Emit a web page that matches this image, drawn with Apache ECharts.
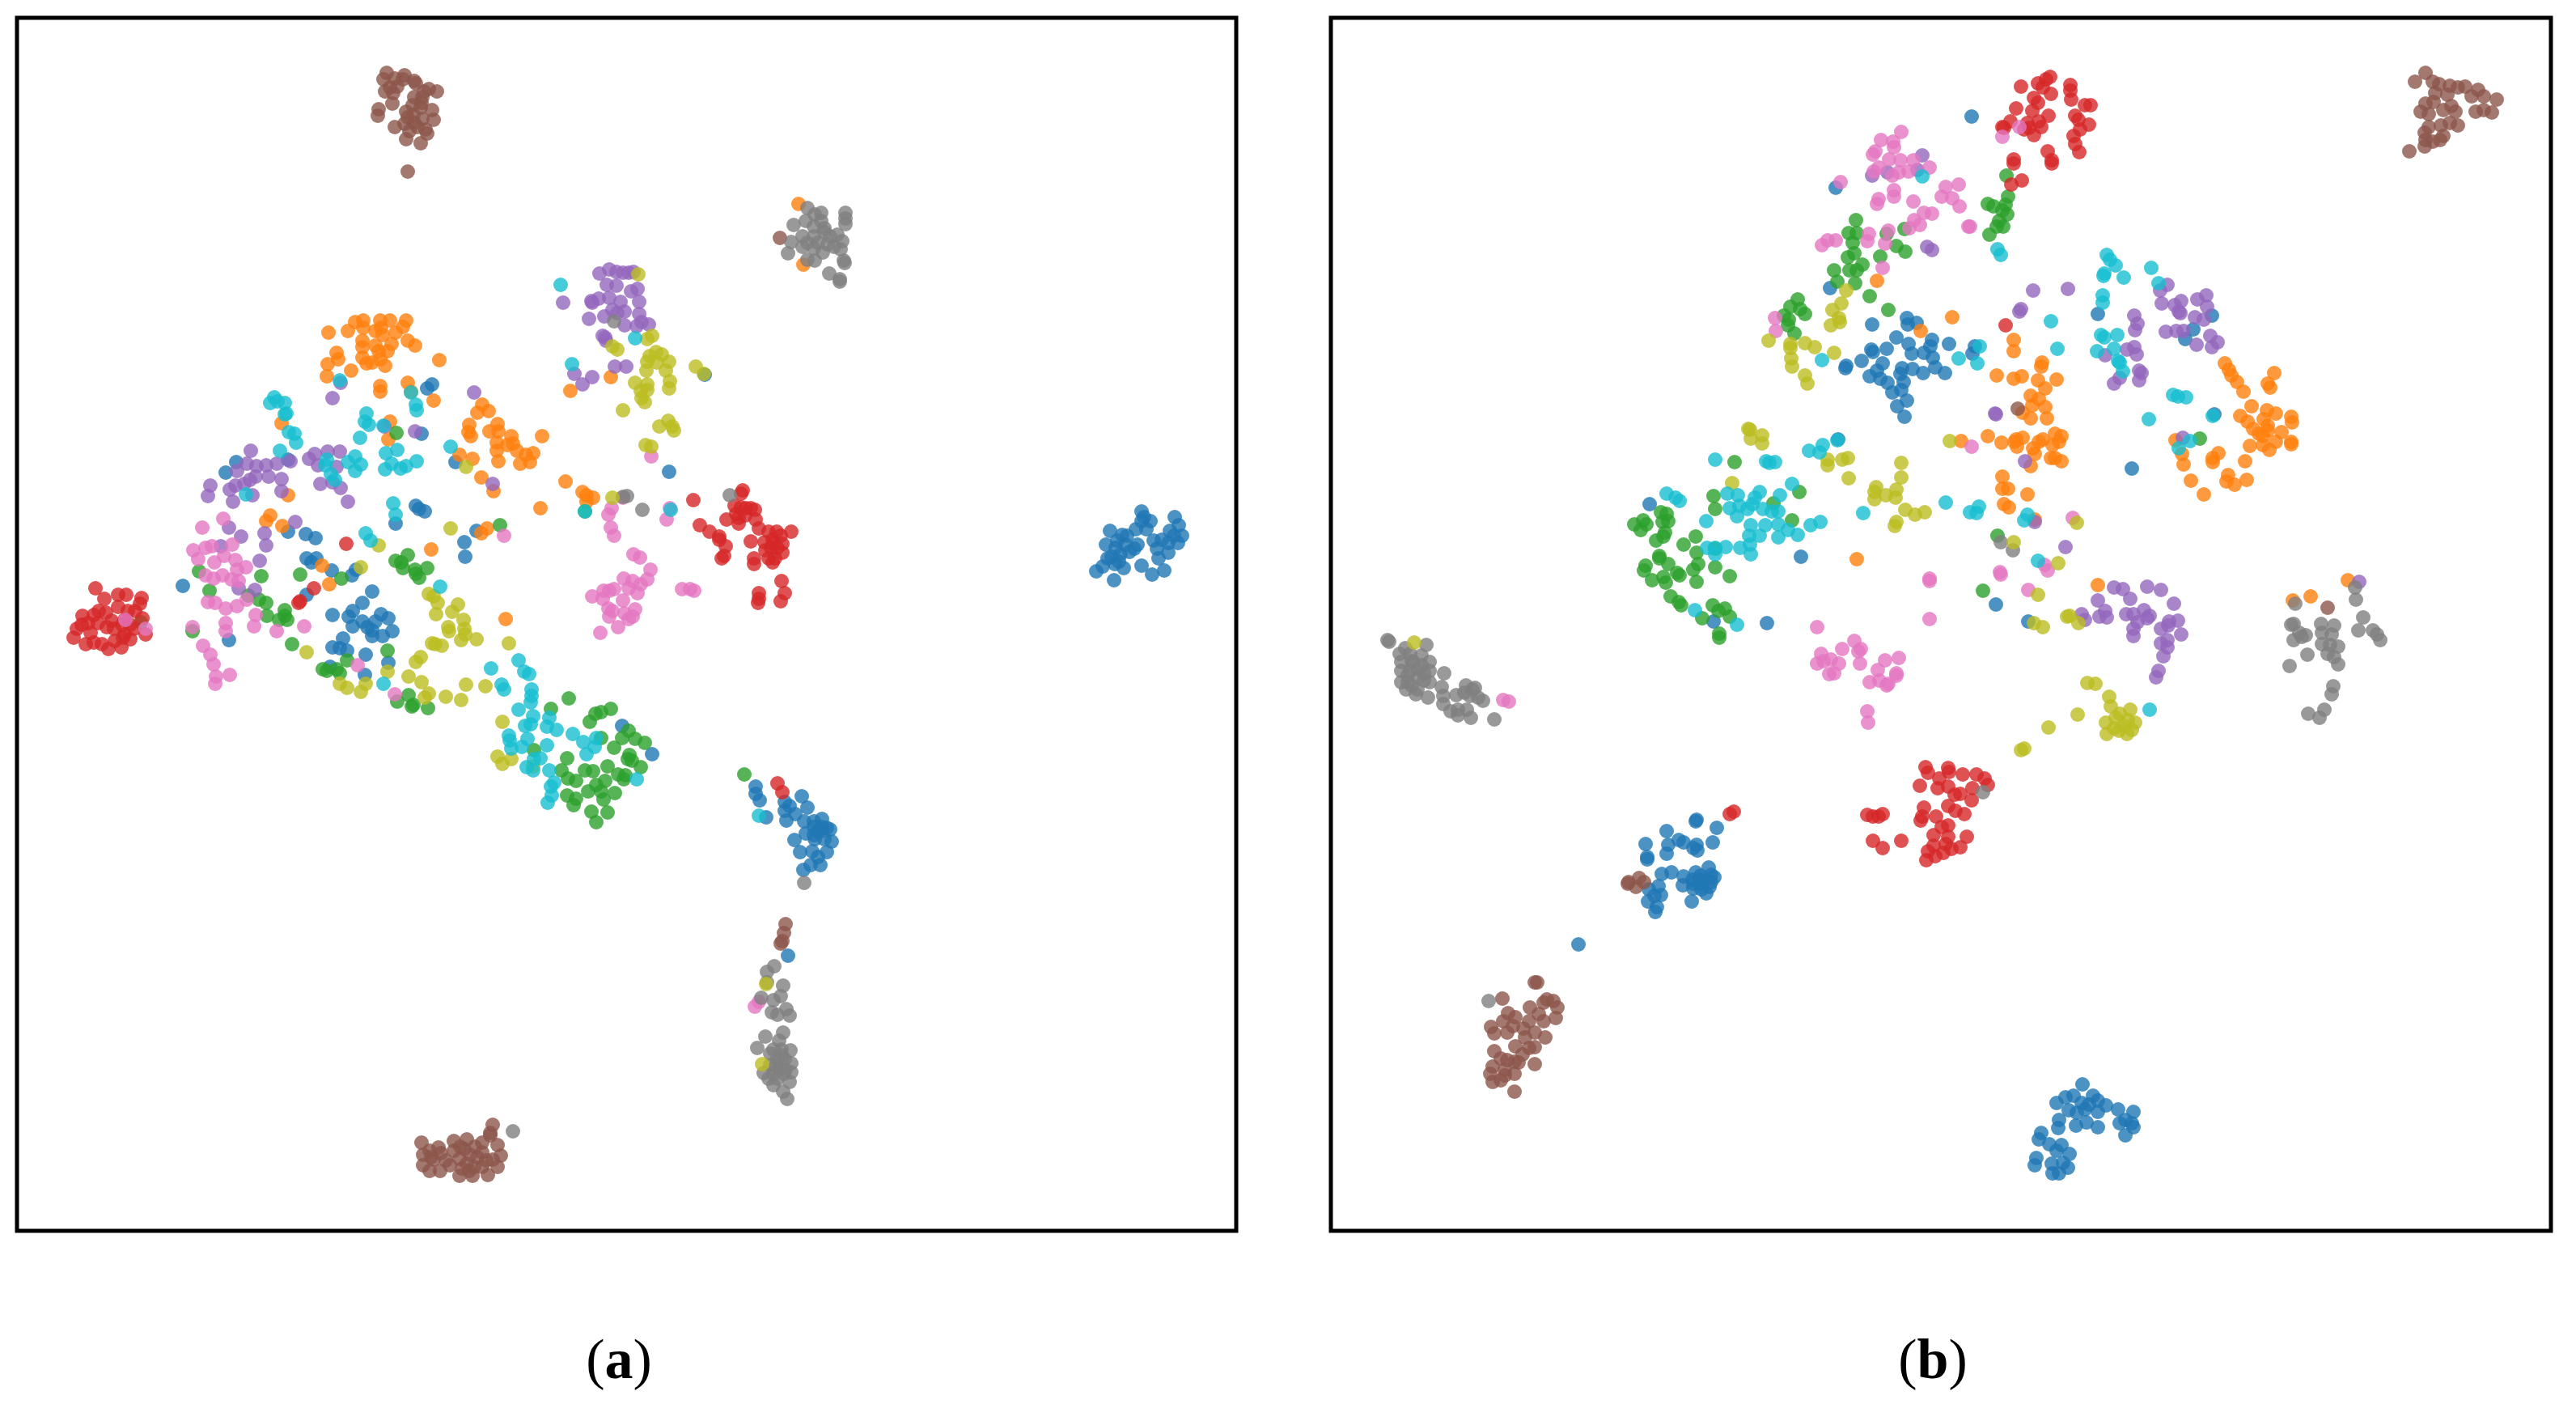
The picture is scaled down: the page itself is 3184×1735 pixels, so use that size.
<!DOCTYPE html>
<html>
<head>
<meta charset="utf-8">
<script src="https://cdn.jsdelivr.net/npm/echarts@6/dist/echarts.min.js"></script>
<style>
  html, body { margin: 0; background: #fff; }
  #chart { width: 3184px; height: 1735px; }
</style>
</head>
<body>
<div id="chart"></div>
<script>
// embedding units, one list per class, panel (a)
const aBlue = [[513,453],[507,458],[500,514],[271,549],[258,562],[335,546],[542,549],[493,603],[497,607],[504,610],[468,625],[568,634],[553,648],[554,666],[335,635],[357,638],[369,643],[358,668],[370,668],[364,673],[389,683],[419,682],[414,689],[358,713],[205,702],[439,709],[427,723],[415,733],[390,738],[410,740],[450,737],[459,742],[427,746],[443,746],[415,752],[439,757],[464,758],[452,764],[433,753],[439,764],[403,767],[390,778],[399,779],[408,782],[431,787],[459,797],[387,802],[430,812],[262,769],[806,561],[850,441],[748,875],[785,910],
  [913,950],[913,959],[918,967],[926,988],[970,962],[949,969],[955,974],[949,980],[977,976],[962,984],[951,992],[973,993],[995,990],[985,993],[1001,1001],[1005,1003],[990,1005],[975,1008],[961,1016],[986,1015],[998,1015],[1007,1018],[968,1031],[983,1030],[1001,1031],[990,1037],[981,1047],[993,1047],[972,1053],[953,1159],[985,1000],[995,1005],[995,1000],[985,1010],
  [1390,610],[1383,632],[1390,622],[1401,622],[1396,632],[1431,617],[1436,627],[1351,634],[1366,639],[1425,634],[1440,640],[1346,651],[1360,646],[1370,651],[1405,646],[1385,651],[1423,649],[1435,649],[1409,656],[1381,656],[1423,661],[1353,666],[1364,663],[1411,668],[1342,678],[1357,675],[1368,680],[1390,677],[1334,684],[1403,688],[1418,683],[1356,695],[1358,655],[1362,672],[1375,660],[1348,668],[1372,640],[1415,645],[1430,640],[1393,617]];
const aOrange = [[385,389],[409,387],[418,376],[428,374],[428,383],[449,374],[461,374],[481,374],[477,382],[450,383],[452,392],[468,389],[443,387],[427,399],[427,407],[443,405],[463,403],[483,399],[492,405],[447,412],[458,412],[395,414],[397,422],[427,420],[432,427],[439,426],[449,422],[455,430],[384,428],[413,436],[383,443],[522,423],[483,451],[449,455],[449,462],[515,473],[487,462],
  [461,499],[459,521],[575,478],[569,488],[583,486],[559,503],[558,512],[561,517],[594,502],[584,511],[595,511],[611,517],[593,525],[606,528],[613,526],[618,535],[593,535],[595,548],[649,517],[638,538],[629,540],[622,551],[634,549],[563,545],[547,540],[574,568],[589,585],[678,573],[647,606],[327,501],[335,590],[313,615],[308,622],[328,628],[512,657],[581,631],[574,637],[377,677],[386,700],[604,743],[684,461],[734,444],[699,586],[704,590],[712,593],[704,598],[966,230],[972,305]];
const aGreen = [[469,513],[597,627],[225,684],[238,708],[302,690],[350,688],[401,693],[468,671],[483,664],[475,673],[477,680],[492,682],[493,687],[497,692],[507,680],[286,714],[299,719],[308,723],[309,739],[331,732],[331,739],[324,744],[334,744],[153,747],[217,758],[340,774],[458,782],[408,794],[378,805],[383,807],[395,805],[399,810],[484,837],[470,845],[490,849],[488,851],[508,853],[702,610],
  [682,841],[660,854],[734,854],[722,858],[715,860],[708,870],[756,881],[748,890],[722,890],[764,891],[776,896],[738,902],[757,911],[755,916],[760,918],[771,926],[639,905],[680,915],[730,925],[673,930],[702,930],[712,931],[743,935],[681,940],[691,943],[752,936],[750,941],[727,943],[716,948],[706,956],[722,956],[739,958],[680,961],[691,965],[688,973],[725,966],[710,981],[730,982],[716,994],[899,935]];
const aRed = [[407,650],[367,705],[350,721],[348,723],[135,713],[154,717],[152,724],[146,733],[155,742],[133,744],[133,762],[140,768],[159,762],[129,778],[97,705],[125,713],[81,739],[74,755],[101,733],[117,745],[91,760],[70,766],[105,774],[131,766],[121,770],[85,774],[111,753],[137,733],[113,780],[88,748],[100,748],[95,738],[110,735],[125,728],[108,718],[120,755],[80,750],[95,772],[140,750],[145,755],[130,750],
  [836,596],[897,584],[895,588],[887,603],[901,606],[912,608],[907,606],[889,613],[877,620],[892,618],[913,620],[892,625],[844,627],[856,635],[868,641],[876,653],[868,645],[874,665],[871,668],[917,631],[929,635],[939,635],[957,635],[944,640],[934,645],[924,648],[946,650],[907,647],[932,655],[946,661],[929,668],[934,673],[937,668],[911,668],[911,675],[945,696],[949,711],[944,721],[917,711],[917,718],[916,723],[940,946],[946,957],[935,650],[940,655],[925,658],[900,615],[895,605]];
const aPurple = [[720,316],[732,311],[741,314],[749,315],[756,315],[762,314],[729,330],[741,331],[767,335],[759,338],[711,352],[719,347],[710,350],[732,346],[746,351],[769,351],[675,352],[736,361],[751,363],[726,369],[707,372],[769,366],[751,380],[772,376],[781,379],[766,381],[742,365],[724,393],[728,399],[727,395],[689,440],[699,453],[711,444],[739,431],[753,431],[588,576],
  [289,535],[239,578],[236,591],[263,583],[267,598],[291,590],[272,560],[284,551],[296,554],[308,553],[321,551],[295,567],[311,567],[327,570],[281,576],[270,578],[288,571],[327,585],[338,548],[368,539],[384,536],[399,536],[361,545],[372,553],[395,555],[375,576],[390,574],[400,581],[409,598],[390,470],[400,451],[565,463],[454,505],[492,511],[344,623],[262,630],[277,641],[306,637],[308,652],[300,671],[252,653],[294,707],[274,705]];
const aBrown = [[457,68],[453,76],[467,75],[479,71],[477,76],[491,78],[461,86],[455,91],[465,93],[493,81],[509,88],[519,91],[503,91],[491,98],[501,98],[464,106],[447,113],[446,121],[489,108],[499,111],[513,114],[481,116],[483,123],[501,125],[515,126],[479,131],[491,130],[467,135],[485,140],[505,138],[507,143],[481,150],[499,155],[483,190],[943,272],[950,1120],[948,1131],[946,1141],[944,1144],[470,85],[500,105],[490,120],[495,135],
  [500,1390],[521,1396],[502,1405],[502,1418],[524,1403],[523,1425],[540,1388],[556,1386],[585,1381],[566,1395],[594,1393],[547,1410],[569,1408],[598,1406],[556,1416],[588,1411],[575,1420],[594,1420],[547,1431],[563,1431],[582,1430],[512,1408],[515,1411],[553,1398],[559,1425],[588,1368],[585,1378],[510,1400],[530,1412],[510,1425],[540,1400],[548,1395],[560,1405],[575,1402],[580,1412],[565,1420],[550,1422],[535,1418],[575,1390]];
const aPink = [[255,619],[229,630],[218,658],[233,655],[241,653],[266,651],[224,669],[256,665],[244,673],[270,670],[283,679],[272,682],[233,689],[243,693],[254,689],[274,696],[265,694],[236,722],[245,723],[258,730],[272,727],[284,719],[295,738],[258,748],[293,752],[258,758],[321,758],[355,752],[217,753],[230,776],[239,787],[243,799],[263,812],[246,814],[245,823],[421,800],[467,836],[134,744],[159,755],[602,640],[784,542],[735,606],[731,614],[734,630],[738,640],[749,593],[807,606],[803,620],
  [762,663],[770,667],[783,682],[750,693],[761,696],[779,694],[771,700],[711,715],[725,708],[732,708],[738,706],[724,718],[749,720],[767,711],[756,705],[731,730],[736,733],[732,740],[751,736],[764,731],[761,740],[743,753],[721,760],[756,743],[822,706],[832,706],[837,708],[917,1216],[912,1222]];
const aGray = [[738,375],[749,592],[754,591],[773,608],[881,590],[977,235],[986,243],[994,241],[1024,241],[1024,248],[1024,255],[960,256],[975,251],[994,251],[998,260],[971,270],[985,270],[998,265],[1014,268],[957,277],[977,278],[971,283],[1002,280],[1020,276],[1010,283],[1018,286],[996,290],[953,291],[977,299],[986,300],[1022,300],[1023,303],[1004,316],[1017,323],[1017,326],[973,1069],[613,1376],[985,258],[1005,270],[990,278],[985,285],
  [936,1172],[927,1179],[927,1192],[947,1196],[944,1209],[935,1214],[920,1211],[933,1229],[940,1232],[951,1225],[955,1233],[947,1254],[925,1259],[942,1264],[915,1273],[956,1276],[931,1280],[940,1287],[949,1287],[957,1292],[931,1294],[942,1299],[957,1303],[923,1304],[929,1311],[940,1311],[955,1315],[935,1319],[947,1327],[952,1336],[935,1275],[945,1275],[950,1300],[935,1305],[945,1282],[938,1295],[948,1305]];
const aOlive = [[447,652],[425,679],[536,631],[555,555],[509,712],[515,715],[520,723],[518,737],[538,734],[545,725],[552,744],[533,753],[534,758],[553,755],[554,762],[549,769],[568,768],[513,773],[517,774],[525,776],[608,773],[358,784],[499,790],[493,796],[458,808],[484,814],[500,821],[431,823],[399,823],[408,828],[425,833],[555,824],[579,826],[530,839],[549,843],[509,835],[504,840],[600,870],[594,913],[600,922],[611,916],[638,925],
  [768,317],[779,397],[785,393],[736,406],[742,410],[790,413],[782,418],[797,416],[779,425],[806,425],[791,426],[778,436],[802,436],[764,451],[779,453],[779,460],[771,461],[772,470],[776,475],[807,449],[806,458],[839,431],[849,440],[749,485],[805,498],[794,505],[810,505],[812,510],[777,528],[784,530],[736,593],[926,1194],[921,1293]];
const aCyan = [[318,469],[313,476],[322,474],[331,476],[333,489],[331,490],[336,512],[343,514],[345,525],[325,535],[383,546],[381,553],[388,564],[393,571],[418,542],[409,549],[425,552],[418,560],[399,448],[432,489],[430,499],[435,503],[453,504],[424,519],[456,538],[470,534],[463,551],[455,558],[474,557],[481,554],[494,548],[487,463],[493,478],[494,485],[536,530],[283,589],[465,600],[468,614],[431,637],[437,646],[523,703],[453,823],[672,330],[764,396],[686,428],[702,610],[808,608],
  [586,804],[620,794],[627,808],[633,811],[599,824],[602,830],[636,830],[636,838],[635,846],[620,855],[638,863],[658,865],[628,875],[635,873],[655,876],[667,880],[608,887],[609,893],[631,891],[611,903],[624,901],[655,899],[687,885],[700,895],[716,890],[714,901],[704,910],[647,915],[639,916],[630,926],[638,930],[658,930],[664,945],[660,950],[661,961],[656,970],[766,941],[917,986]];

// panel (b)
const bBlue = [[792,122],[624,210],[617,334],[669,379],[712,371],[713,379],[724,377],[699,395],[714,403],[743,398],[764,403],[741,406],[733,414],[668,410],[687,409],[670,413],[718,415],[744,420],[656,424],[637,430],[636,433],[682,427],[747,432],[759,439],[732,439],[675,436],[666,443],[706,433],[719,434],[704,440],[679,446],[688,451],[708,450],[705,460],[694,463],[712,473],[700,480],[709,493],[796,406],[793,415],[948,366],[1066,385],[1056,397],[1089,368],[1092,490],[990,557],[822,725],[862,746],[394,601],[473,746],[581,666],[539,748],[627,521],
  [452,991],[451,993],[477,1001],[415,1005],[389,1021],[417,1022],[430,1016],[436,1019],[415,1033],[452,1022],[448,1026],[453,1029],[472,1019],[391,1037],[391,1040],[467,1050],[409,1058],[421,1056],[436,1061],[451,1056],[457,1060],[470,1059],[474,1062],[447,1065],[435,1072],[448,1076],[458,1070],[468,1074],[458,1077],[464,1082],[405,1073],[393,1077],[400,1085],[408,1084],[392,1092],[403,1099],[401,1105],[446,1092],[306,1145],[455,1065],[462,1065],[448,1070],[470,1068],
  [929,1318],[918,1332],[908,1334],[897,1341],[942,1332],[948,1338],[958,1344],[928,1341],[937,1343],[912,1350],[922,1353],[932,1349],[948,1352],[973,1349],[992,1352],[982,1362],[975,1366],[990,1366],[992,1371],[982,1381],[921,1369],[934,1365],[948,1371],[900,1362],[899,1372],[878,1378],[875,1386],[888,1392],[903,1393],[897,1400],[913,1404],[872,1409],[870,1418],[891,1416],[905,1415],[911,1421],[892,1428],[900,1428]];
const bOrange = [[675,325],[768,370],[729,387],[844,398],[844,412],[823,442],[844,446],[854,443],[874,448],[897,447],[878,431],[879,426],[883,458],[865,467],[875,471],[867,479],[883,481],[855,488],[865,495],[885,495],
  [1105,427],[1110,435],[1113,442],[1120,450],[1128,462],[1166,439],[1158,452],[1161,457],[1138,480],[1124,492],[1157,485],[1168,489],[1187,493],[1188,500],[1133,499],[1153,496],[1158,504],[1140,508],[1147,514],[1175,512],[1158,510],[1152,517],[1168,524],[1187,524],[1187,527],[1136,529],[1152,528],[1160,534],[1044,522],[1052,539],[1054,552],[1097,538],[1090,544],[1090,549],[1130,548],[1063,572],[1109,565],[1107,573],[1117,577],[1132,571],[1079,589],
  [812,517],[829,525],[779,523],[847,521],[855,519],[848,530],[845,524],[880,521],[868,532],[870,539],[895,514],[903,517],[900,524],[892,528],[890,544],[895,544],[903,548],[865,554],[875,524],[830,567],[830,582],[837,582],[861,589],[832,601],[838,605],[870,620],[948,701],[650,669],[1189,720],[1211,715],[1257,695]];
const bGreen = [[835,195],[837,221],[812,230],[819,233],[834,231],[830,238],[836,243],[826,251],[823,258],[831,258],[814,268],[649,250],[640,266],[650,266],[645,278],[687,267],[709,261],[699,282],[710,289],[647,291],[639,296],[679,295],[657,305],[641,312],[650,312],[622,312],[626,326],[648,328],[666,344],[689,361],[577,348],[568,357],[580,360],[586,366],[566,373],[560,368],[565,380],[573,390],[1074,520],[824,640],[806,708],
  [473,591],[475,607],[547,600],[579,586],[570,621],[499,549],[415,613],[408,611],[375,626],[386,621],[390,626],[383,633],[410,623],[417,622],[413,636],[402,646],[411,641],[451,641],[436,651],[452,661],[475,656],[406,665],[406,668],[417,675],[454,675],[448,682],[389,677],[387,683],[428,686],[475,679],[493,690],[411,691],[414,698],[397,695],[431,689],[452,697],[420,715],[430,722],[433,726],[472,726],[459,742],[479,733],[487,730],[493,740],[480,761],[480,766]];
const bRed = [[853,85],[874,81],[884,76],[889,73],[880,86],[890,94],[914,83],[914,90],[915,101],[869,99],[874,105],[847,112],[867,115],[887,121],[932,108],[939,108],[920,121],[924,126],[937,132],[840,128],[830,135],[832,136],[861,130],[875,128],[863,136],[878,135],[869,145],[857,138],[926,138],[918,146],[920,156],[925,166],[886,165],[891,176],[891,180],[844,175],[844,180],[854,201],[841,206],[834,380],[493,984],[498,981],
  [735,926],[738,933],[763,927],[764,932],[781,935],[798,935],[808,940],[812,948],[752,940],[750,952],[728,949],[763,950],[793,952],[778,959],[771,960],[792,967],[663,985],[670,987],[677,987],[682,984],[733,976],[731,987],[729,992],[748,987],[763,974],[772,980],[783,984],[763,998],[755,1000],[745,1010],[763,1012],[786,1012],[778,1025],[670,1017],[705,1017],[682,1026],[745,1023],[760,1021],[757,1032],[767,1027],[738,1030],[747,1036],[736,1041]];
const bPurple = [[731,170],[669,195],[688,191],[725,188],[737,283],[743,287],[868,337],[911,335],[853,360],[851,363],[821,489],[822,490],[1034,330],[1025,337],[1027,353],[1043,355],[1051,350],[1050,365],[1048,363],[1071,348],[1082,343],[1083,357],[1068,370],[1079,373],[1032,388],[1045,387],[1054,387],[1087,393],[1096,401],[1089,407],[1070,404],[993,368],[997,378],[994,386],[984,410],[993,407],[996,416],[957,417],[999,436],[1002,439],[999,448],[975,445],[968,452],[858,548],[1053,519],[870,623],[908,654],
  [968,704],[979,706],[1009,703],[1026,707],[948,720],[988,718],[1042,724],[957,733],[950,740],[959,741],[983,737],[992,737],[1005,732],[1012,739],[1009,742],[928,737],[932,744],[997,747],[1047,745],[1036,746],[1035,751],[1026,755],[1051,762],[992,755],[992,764],[1026,773],[1034,778],[1034,769],[1029,789],[1023,807],[1020,815],[1271,697]];
const bBrown = [[849,483],[1232,729],[1353,68],[1340,79],[1362,79],[1370,82],[1383,84],[1393,86],[1402,85],[1418,89],[1410,97],[1425,97],[1441,101],[1365,93],[1380,95],[1363,104],[1353,106],[1347,116],[1357,119],[1375,114],[1390,116],[1385,109],[1415,116],[1425,114],[1435,117],[1357,135],[1393,133],[1372,133],[1383,130],[1352,142],[1375,146],[1353,151],[1362,153],[1371,151],[1352,159],[1333,165],
  [367,1070],[381,1063],[387,1068],[377,1074],[368,1068],[255,1192],[252,1192],[212,1212],[246,1223],[267,1213],[275,1215],[263,1217],[280,1223],[219,1230],[228,1235],[257,1231],[213,1240],[245,1240],[278,1236],[263,1240],[198,1247],[225,1246],[238,1249],[218,1254],[252,1254],[202,1255],[265,1260],[240,1260],[228,1271],[245,1273],[252,1272],[202,1277],[237,1281],[210,1286],[218,1288],[227,1290],[232,1291],[252,1293],[200,1296],[215,1300],[197,1305],[227,1305],[215,1307],[200,1315],[210,1313],[227,1327]];
const bPink = [[705,141],[680,151],[695,153],[696,160],[673,165],[670,169],[690,175],[704,176],[720,176],[677,185],[671,190],[702,191],[694,195],[714,190],[740,185],[630,203],[696,213],[696,221],[677,224],[675,230],[720,227],[760,209],[776,206],[755,221],[768,223],[777,233],[733,241],[743,242],[721,250],[728,256],[715,260],[790,258],[788,258],[689,263],[665,267],[663,276],[685,279],[614,275],[624,275],[607,281],[682,309],[830,147],[851,135],[549,371],[550,387],[792,530],[917,618],[827,685],[828,688],[882,676],[886,683],[862,707],[213,843],[220,845],
  [601,753],[740,693],[740,696],[740,743],[647,770],[655,780],[632,780],[652,783],[606,786],[618,793],[609,795],[601,798],[628,798],[654,798],[685,794],[702,791],[616,811],[622,810],[676,806],[699,810],[699,813],[666,821],[678,819],[689,823],[687,825],[663,857],[664,871]];
const bGray = [[828,648],[843,658],[806,957],[195,1215],[1192,724],[1266,704],[1267,719],[1276,741],[1270,757],[1288,757],[1293,762],[1297,769],[1187,750],[1190,749],[1197,760],[1205,763],[1190,769],[1200,765],[1224,749],[1240,751],[1225,760],[1237,762],[1225,774],[1235,775],[1245,777],[1207,787],[1232,786],[1240,790],[1245,799],[1185,801],[1239,826],[1237,836],[1228,855],[1208,860],[1222,865],
  [70,769],[72,771],[118,775],[92,779],[85,786],[98,786],[112,788],[87,796],[102,796],[122,796],[87,807],[98,807],[108,805],[122,807],[108,815],[87,821],[95,821],[115,819],[122,821],[93,830],[107,830],[105,836],[120,840],[140,810],[137,827],[139,838],[139,848],[167,825],[178,828],[155,837],[165,834],[172,838],[188,844],[182,840],[168,855],[148,857],[157,855],[157,862],[173,865],[202,867],[100,795],[112,800],[95,812],[115,810],[100,825],[175,830]];
const bOlive = [[637,337],[631,353],[620,361],[628,371],[629,376],[618,380],[541,399],[586,402],[598,407],[568,403],[568,408],[622,414],[569,421],[570,431],[586,442],[589,452],[516,508],[103,772],[765,523],[922,624],[844,648],[899,674],[874,713],[869,748],[880,753],[913,739],[910,740],[924,748],[935,822],[945,823],[962,839],
  [518,509],[533,516],[519,520],[533,526],[614,546],[614,553],[632,546],[639,544],[640,569],[496,575],[705,550],[705,568],[674,580],[672,586],[672,595],[686,590],[699,583],[698,593],[710,608],[722,614],[734,611],[699,623],[697,628],[853,905],[857,903],[887,877],[923,861],[964,851],[988,855],[958,871],[974,881],[994,871],[984,885],[959,885],[975,860],[985,868],[968,878],[980,875],[990,880],[970,865]];
const bCyan = [[731,196],[824,286],[828,293],[607,423],[776,421],[802,406],[799,427],[890,375],[898,409],[959,293],[963,299],[970,306],[956,316],[955,319],[980,321],[1014,309],[1023,328],[954,343],[954,352],[952,392],[956,395],[972,392],[968,409],[947,412],[973,424],[979,437],[975,426],[1041,466],[1047,468],[1057,469],[1011,496],[1090,492],[1062,523],[1048,532],[760,599],[790,611],[801,604],[798,612],[861,614],[857,621],[874,671],[1012,855],
  [475,546],[538,548],[549,549],[542,550],[591,535],[608,528],[604,537],[626,522],[658,612],[415,588],[426,593],[431,597],[570,576],[555,590],[530,586],[490,588],[503,590],[524,593],[493,606],[505,603],[515,607],[521,601],[534,607],[545,610],[553,610],[502,616],[464,622],[519,627],[537,627],[553,626],[565,633],[593,627],[605,623],[577,639],[517,640],[530,640],[553,642],[518,651],[465,655],[475,655],[488,654],[475,663],[506,655],[519,663],[450,732],[502,750]];

const panelLabels = ['a', 'b'];
const classColors = ['#1f77b4', '#ff7f0e', '#2ca02c', '#d62728', '#9467bd', '#8c564b', '#e377c2', '#7f7f7f', '#bcbd22', '#17becf'];
const panels = [
  [aBlue, aOrange, aGreen, aRed, aPurple, aBrown, aPink, aGray, aOlive, aCyan],
  [bBlue, bOrange, bGreen, bRed, bPurple, bBrown, bPink, bGray, bOlive, bCyan]
];

const gridLefts = [21, 1645];
const gridTop = 22;
const gridWidths = [1507, 1508];
const gridHeight = 1499;
const labelCenters = [760, 2384];

const series = [];
panels.forEach((clases, p) => {
  clases.forEach((puntos, i) => {
    series.push({
      type: 'scatter',
      xAxisIndex: p,
      yAxisIndex: p,
      data: puntos,
      symbolSize: 18,
      silent: true,
      itemStyle: { color: classColors[i], opacity: 0.8 }
    });
  });
});

const opciones = {
  animation: false,
  backgroundColor: '#fff',
  title: panelLabels.map((l, p) => ({
    text: `{p|(}{b|${l}}{p|)}`,
    left: labelCenters[p],
    top: 1645,
    textAlign: 'center',
    textStyle: {
      fontWeight: 'normal',
      rich: {
        p: { fontFamily: 'Liberation Serif', fontSize: 70, fontWeight: 'normal', color: '#000' },
        b: { fontFamily: 'Liberation Serif', fontSize: 70, fontWeight: 'bold', color: '#000' }
      }
    }
  })),
  grid: panelLabels.map((l, p) => ({
    left: gridLefts[p],
    top: gridTop,
    width: gridWidths[p],
    height: gridHeight,
    show: true,
    borderColor: '#000',
    borderWidth: 5,
    backgroundColor: '#fff'
  })),
  xAxis: panelLabels.map((l, p) => ({
    type: 'value', gridIndex: p, min: 0, max: gridWidths[p], show: false
  })),
  yAxis: panelLabels.map((l, p) => ({
    type: 'value', gridIndex: p, min: 0, max: gridHeight, inverse: true, show: false
  })),
  series
};

const miGrafico = echarts.init(document.getElementById('chart'));
miGrafico.setOption(opciones);
</script>
</body>
</html>
